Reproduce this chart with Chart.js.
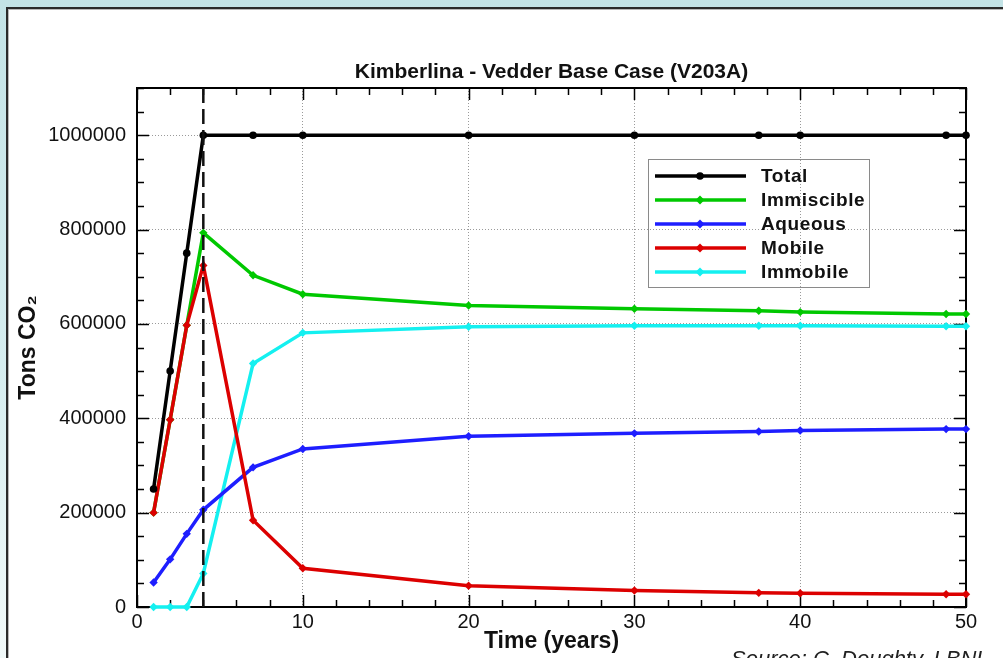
<!DOCTYPE html>
<html><head><meta charset="utf-8">
<script src="https://cdn.jsdelivr.net/npm/chart.js@4"></script>
<style>
html,body{margin:0;padding:0;width:1003px;height:658px;overflow:hidden;}
body{position:relative;background:linear-gradient(to bottom,#c3e3e6 0%,#d6edef 55%,#f1f9f9 100%);}
#panel{position:absolute;left:6px;top:7px;width:1100px;height:800px;background:#fff;border-top:2px solid #2a2a2a;border-left:2px solid #2a2a2a;box-shadow:inset 1px 1px 0 #b8b8b8;}
canvas{position:absolute;left:0;top:0;}
</style></head>
<body><div id="panel"></div><canvas id="c" width="1003" height="658"></canvas>
<script>
// ---- data ----
const years      = [1, 2, 3, 4, 7, 10, 20, 30, 37.5, 40, 48.8, 50];
const total      = [250000, 500000, 750000, 1000000, 1000000, 1000000, 1000000, 1000000, 1000000, 1000000, 1000000, 1000000];
const immiscible = [200000, 397000, 597000, 793000, 703000, 663000, 639000, 632000, 628000, 625000, 621000, 621000];
const aqueous    = [52000, 101000, 155000, 206000, 296000, 335000, 362000, 368000, 372000, 374000, 377000, 377000];
const mobile     = [200000, 397000, 597000, 724000, 184000, 82000, 45000, 35000, 30000, 29000, 27000, 27000];
const immobile   = [0, 0, 0, 71000, 516000, 581000, 594000, 596000, 596000, 596000, 595000, 595000];
const seriesNames = ['Total', 'Immiscible', 'Aqueous', 'Mobile', 'Immobile'];
const xTicks = [0, 10, 20, 30, 40, 50];
const yTickLabels = ['0', '200000', '400000', '600000', '800000', '1000000'];
const injectionEnd = 4;
const titleText = 'Kimberlina - Vedder Base Case (V203A)';
const sourceText = 'Source: C. Doughty, LBNL';

const FONT = '"Liberation Sans", Arial, Helvetica, sans-serif';
Chart.defaults.font.family = FONT;
Chart.defaults.color = '#111';

const colors = ['#000000', '#00c800', '#1e1eff', '#dc0000', '#14f0f0'];
const orders = [0, 2, 3, 1, 4];
const values = [total, immiscible, aqueous, mobile, immobile];

const datasets = seriesNames.map((n, i) => ({
  label: n,
  data: years.map((t, k) => ({x: t, y: values[i][k]})),
  borderColor: colors[i],
  backgroundColor: colors[i],
  borderWidth: 3.5,
  pointRadius: i === 0 ? 3.8 : 4.2,
  pointStyle: i === 0 ? 'circle' : 'rectRot',
  pointBorderWidth: 0,
  tension: 0,
  clip: false,
  order: orders[i]
}));

const framePlugin = {
  id: 'frame',
  beforeDatasetsDraw(chart) {
    const {ctx, chartArea: a, scales: {x, y}} = chart;
    ctx.save();
    ctx.strokeStyle = '#000';
    ctx.lineWidth = 1.5;
    ctx.beginPath();
    for (let v = 0; v <= 50; v += 2) {
      const px = Math.round(x.getPixelForValue(v)) + 0.5;
      const L = v % 10 === 0 ? 12 : 7;
      ctx.moveTo(px, a.bottom); ctx.lineTo(px, a.bottom - L);
      ctx.moveTo(px, a.top); ctx.lineTo(px, a.top + L);
    }
    for (let v = 0; v <= 1100000; v += 50000) {
      const py = Math.round(y.getPixelForValue(v)) + 0.5;
      const L = v % 200000 === 0 ? 12 : 7;
      ctx.moveTo(a.left, py); ctx.lineTo(a.left + L, py);
      ctx.moveTo(a.right, py); ctx.lineTo(a.right - L, py);
    }
    ctx.stroke();
    ctx.lineWidth = 2;
    ctx.strokeRect(a.left, a.top, a.right - a.left, a.bottom - a.top);
    ctx.restore();
  },
  afterDatasetsDraw(chart) {
    const {ctx, chartArea: a, scales: {x}} = chart;
    const px = x.getPixelForValue(injectionEnd);
    ctx.save();
    ctx.strokeStyle = '#111';
    ctx.lineWidth = 2.5;
    ctx.setLineDash([15, 6]);
    ctx.beginPath();
    ctx.moveTo(px, a.bottom); ctx.lineTo(px, a.top);
    ctx.stroke();
    ctx.restore();
  },
  afterDraw(chart) {
    const {ctx, chartArea: a} = chart;
    ctx.save();
    // title
    ctx.fillStyle = '#111';
    ctx.font = 'bold 21px ' + FONT;
    ctx.textAlign = 'center';
    ctx.textBaseline = 'alphabetic';
    ctx.fillText(titleText, (a.left + a.right) / 2, 78);
    // legend
    const bx = 648.5, by = 159.5, bw = 221, bh = 128;
    ctx.strokeStyle = '#8a8a8a';
    ctx.lineWidth = 1;
    ctx.strokeRect(bx, by, bw, bh);
    ctx.font = 'bold 19px ' + FONT;
    ctx.textAlign = 'left';
    ctx.textBaseline = 'middle';
    try { ctx.letterSpacing = '0.6px'; } catch (e) {}
    chart.data.datasets.forEach((ds, i) => {
      const ry = 176 + i * 24;
      ctx.strokeStyle = ds.borderColor;
      ctx.lineWidth = 3.5;
      ctx.beginPath(); ctx.moveTo(655, ry); ctx.lineTo(746, ry); ctx.stroke();
      ctx.fillStyle = ds.borderColor;
      ctx.beginPath();
      if (i === 0) { ctx.arc(700, ry, 3.8, 0, Math.PI * 2); }
      else { ctx.moveTo(700, ry - 4.5); ctx.lineTo(704.5, ry); ctx.lineTo(700, ry + 4.5); ctx.lineTo(695.5, ry); ctx.closePath(); }
      ctx.fill();
      ctx.fillStyle = '#111';
      ctx.fillText(ds.label, 761, ry + 1);
    });
    try { ctx.letterSpacing = '0px'; } catch (e) {}
    // source
    ctx.font = 'italic 22px ' + FONT;
    ctx.textBaseline = 'alphabetic';
    ctx.fillStyle = '#222';
    ctx.fillText(sourceText, 731, 666);
    ctx.restore();
  }
};

new Chart(document.getElementById('c'), {
  type: 'line',
  data: {datasets},
  options: {
    responsive: false,
    animation: false,
    devicePixelRatio: 1,
    layout: {padding: {top: 88, right: 37, left: 0, bottom: 0}},
    plugins: {legend: {display: false}, tooltip: {enabled: false}, title: {display: false}},
    scales: {
      x: {
        type: 'linear', min: 0, max: 50,
        afterFit(s) { s.height = 51; },
        afterBuildTicks(s) { s.ticks = xTicks.map(v => ({value: v})); },
        ticks: {font: {size: 20}, padding: 3, color: '#111', callback: v => String(v)},
        grid: {drawTicks: false, lineWidth: 1,
               color: c => (c.tick && c.tick.value > 0 && c.tick.value < 50) ? '#9a9a9a' : 'rgba(0,0,0,0)'},
        border: {display: false, dash: [1, 2]},
        title: {display: true, text: 'Time (years)', font: {size: 23, weight: 'bold'}, color: '#111', padding: {top: 0, bottom: 3}}
      },
      y: {
        type: 'linear', min: 0, max: 1100000,
        afterFit(s) { s.width = 137; },
        afterBuildTicks(s) { s.ticks = yTickLabels.map(v => ({value: Number(v)})); },
        ticks: {font: {size: 20}, padding: 11, color: '#111', callback: (v, i) => yTickLabels[i]},
        grid: {drawTicks: false, lineWidth: 1,
               color: c => (c.tick && c.tick.value > 0) ? '#9a9a9a' : 'rgba(0,0,0,0)'},
        border: {display: false, dash: [1, 2]},
        title: {display: true, text: 'Tons CO\u2082', font: {size: 23, weight: 'bold'}, color: '#111', padding: {top: 15, bottom: 0}}
      }
    }
  },
  plugins: [framePlugin]
});
</script>
</body></html>
